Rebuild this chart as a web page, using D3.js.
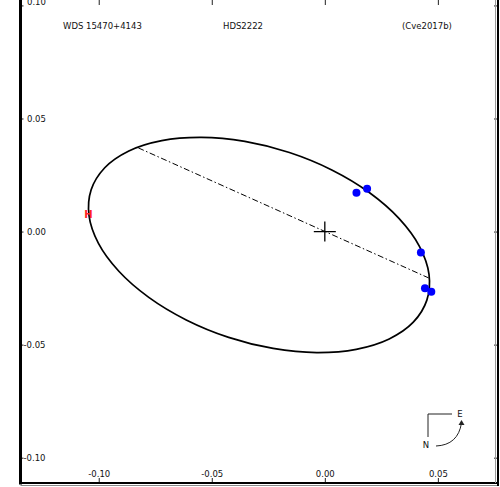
<!DOCTYPE html>
<html>
<head>
<meta charset="utf-8">
<script src="https://cdn.jsdelivr.net/npm/d3@7"></script>
<style>
  body { margin: 0; background: #fff; }
  text { font-family: "DejaVu Sans", sans-serif; fill: #111; }
</style>
</head>
<body>
<div id="chart"></div>
<script>
// chart data (units: arcsec)
const titles = ["WDS 15470+4143", "HDS2222", "(Cve2017b)"];
const ticksX = [-0.10, -0.05, 0.00, 0.05];
const ticksY = [-0.10, -0.05, 0.00, 0.05, 0.10];

// measured positions (blue dots)
const obsX = [0.0140, 0.0187, 0.0425, 0.0443, 0.0471];
const obsY = [0.0172, 0.0189, -0.0093, -0.0251, -0.0266];

// Hipparcos point (red H)
const hipX = [-0.1045];
const hipY = [0.0074];

// orbit curve, points read along the ellipse
const orbitX = [0.04514, 0.03914, 0.02848, 0.01390, -0.00361, -0.02286, -0.04253, -0.06129,
                -0.07786, -0.09110, -0.10012, -0.10429, -0.10335, -0.09734, -0.08668, -0.07211,
                -0.05460, -0.03535, -0.01567, 0.00309, 0.01966, 0.03289, 0.04191, 0.04609];
const orbitY = [-0.03033, -0.04008, -0.04749, -0.05207, -0.05351, -0.05170, -0.04678, -0.03907,
                -0.02910, -0.01755, -0.00522, 0.00707, 0.01848, 0.02822, 0.03564, 0.04022,
                0.04165, 0.03985, 0.03493, 0.02722, 0.01725, 0.00570, -0.00663, -0.01893];

// line of nodes (dash-dot)
const nodeX = [-0.0825, 0.0459];
const nodeY = [0.0370, -0.0205];

// plot extent
const domX = [-0.1346, 0.0766];
const domY = [-0.1112, 0.1024];

var W = 500, H = 487;
var pL = 20.5, pR = 498, pT = 0, pB = 483;

var svg = d3.select("#chart").append("svg")
    .attr("width", W)
    .attr("height", H);

var x = d3.scaleLinear().domain(domX).range([pL, pR]);
var y = d3.scaleLinear().domain(domY).range([pB, pT]);

var fmt = d3.format(".2f");
function lab(d) { return fmt(d).replace("\u2212", "-"); }

// left axis: ticks and labels inside the frame
var gl = svg.append("g")
    .attr("transform", "translate(" + pL + ",0)")
    .call(d3.axisRight(y).tickValues(ticksY).tickSize(3).tickPadding(1).tickFormat(lab));
gl.selectAll("text")
    .style("font-size", "8.5px")
    .attr("x", function(d) { return d < 0 ? 3 : 6.5; })
    .attr("dy", function(d) { return d > 0.09 ? "-0.1em" : "0.32em"; });

// bottom axis
var gb = svg.append("g")
    .attr("transform", "translate(0," + pB + ")")
    .call(d3.axisTop(x).tickValues(ticksX).tickSize(5).tickPadding(1.5).tickFormat(lab));
gb.selectAll("text").style("font-size", "8.5px");

// top and right axes: ticks only
svg.append("g")
    .attr("transform", "translate(0," + pT + ")")
    .call(d3.axisBottom(x).tickValues(ticksX).tickSize(5).tickFormat(""));
svg.append("g")
    .attr("transform", "translate(" + pR + ",0)")
    .call(d3.axisLeft(y).tickValues(ticksY).tickSize(4).tickFormat(""));

svg.selectAll(".domain").remove();
svg.selectAll(".tick line").attr("stroke", "#222");

// frame
svg.append("line").attr("x1", pL).attr("x2", pL).attr("y1", pT).attr("y2", pB + 1.5)
    .attr("stroke", "#000").attr("stroke-width", 3);
svg.append("line").attr("x1", pL).attr("x2", pR + 1).attr("y1", pB).attr("y2", pB)
    .attr("stroke", "#000").attr("stroke-width", 2);
svg.append("line").attr("x1", pL).attr("x2", pR + 1).attr("y1", pB + 2.5).attr("y2", pB + 2.5)
    .attr("stroke", "#888").attr("stroke-width", 1);
svg.append("line").attr("x1", pR).attr("x2", pR).attr("y1", pT).attr("y2", pB + 3)
    .attr("stroke", "#000").attr("stroke-width", 2);
svg.append("line").attr("x1", pR - 2.5).attr("x2", pR - 2.5).attr("y1", pT).attr("y2", pB)
    .attr("stroke", "#999").attr("stroke-width", 1);

// header texts
var titleX = [63, 223, 402];
svg.selectAll(".title")
    .data(titles)
    .enter().append("text")
    .attr("class", "title")
    .attr("x", function(d, i) { return titleX[i]; })
    .attr("y", 29)
    .style("font-size", "8.5px")
    .text(function(d) { return d; });

// orbit
var orbit = orbitX.map(function(d, i) { return [d, orbitY[i]]; });
var curve = d3.line()
    .x(function(d) { return x(d[0]); })
    .y(function(d) { return y(d[1]); })
    .curve(d3.curveCatmullRomClosed.alpha(0.5));

svg.append("path")
    .datum(orbit)
    .attr("d", curve)
    .attr("fill", "none")
    .attr("stroke", "#000")
    .attr("stroke-width", 1.7);

// line of nodes
svg.append("line")
    .attr("x1", x(nodeX[0])).attr("y1", y(nodeY[0]))
    .attr("x2", x(nodeX[1])).attr("y2", y(nodeY[1]))
    .attr("stroke", "#000")
    .attr("stroke-width", 1)
    .attr("stroke-dasharray", "6,2.5,1.5,2.5");

// primary star
svg.append("path")
    .attr("d", "M" + (x(0) - 11) + "," + y(0) + "H" + (x(0) + 11) +
               "M" + x(0) + "," + (y(0) - 10) + "V" + (y(0) + 10))
    .attr("stroke", "#000")
    .attr("stroke-width", 1.3);

// measures
svg.selectAll(".dot")
    .data(obsX)
    .enter().append("circle")
    .attr("class", "dot")
    .attr("cx", function(d) { return x(d); })
    .attr("cy", function(d, i) { return y(obsY[i]); })
    .attr("r", 4)
    .attr("fill", "#0000ff");

svg.selectAll(".hip")
    .data(hipX)
    .enter().append("text")
    .attr("class", "hip")
    .attr("x", function(d) { return x(d); })
    .attr("y", function(d, i) { return y(hipY[i]); })
    .attr("dy", "0.36em")
    .attr("text-anchor", "middle")
    .style("font-size", "10px")
    .style("font-weight", "bold")
    .style("fill", "#f22")
    .text("H");

// compass (bottom right)
var cx = pR - 70, cy = pB - 69;
var comp = svg.append("g").attr("fill", "none").attr("stroke", "#222").attr("stroke-width", 1);
comp.append("path").attr("d", "M" + (cx + 24) + "," + cy + "H" + cx + "V" + (cy + 23));
comp.append("path").attr("d", "M" + (cx + 8) + "," + (cy + 32) +
    "Q" + (cx + 30) + "," + (cy + 31) + " " + (cx + 33.5) + "," + (cy + 9));
svg.append("path")
    .attr("d", "M" + (cx + 33.5) + "," + (cy + 6) + "l-3,5 l6,0 z")
    .attr("fill", "#222");
svg.append("text").attr("x", cx + 32).attr("y", cy).attr("dy", "0.35em")
    .attr("text-anchor", "middle").style("font-size", "8.5px").text("E");
svg.append("text").attr("x", cx - 2).attr("y", cy + 31).attr("dy", "0.35em")
    .attr("text-anchor", "middle").style("font-size", "8.5px").text("N");
</script>
</body>
</html>
